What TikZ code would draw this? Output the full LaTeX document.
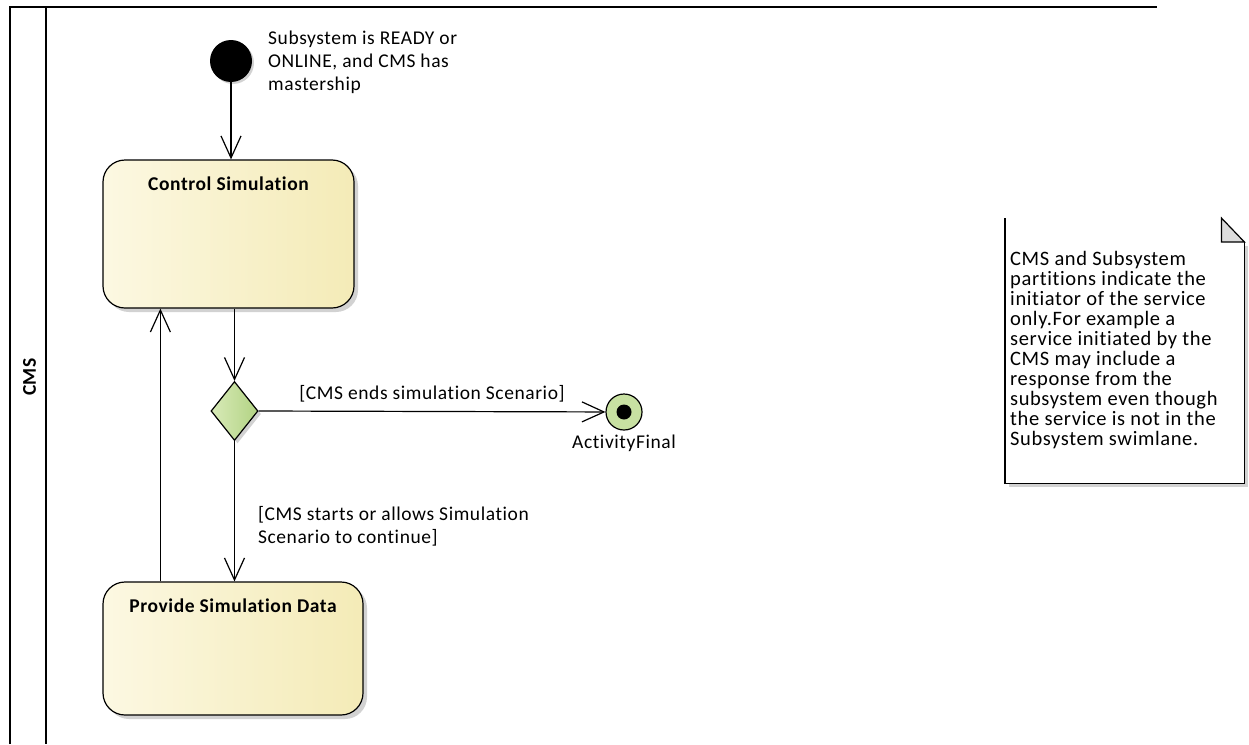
\documentclass[tikz,border=0pt]{standalone}
\usepackage{fontspec}
\setmainfont{Carlito}[Ligatures=NoCommon, LetterSpace=3]
\usetikzlibrary{arrows.meta,shapes.geometric,shadows}

\definecolor{actleft}{HTML}{FCF8E2}
\definecolor{actright}{HTML}{F4EBB7}
\definecolor{decleft}{HTML}{D8EAB8}
\definecolor{decright}{HTML}{B2D383}
\definecolor{finfill}{HTML}{C8E1A2}
\definecolor{shadowgray}{HTML}{D2D2D2}
\definecolor{foldgray}{HTML}{DCDCDC}

\tikzset{
  activity/.style={draw, line width=1.2pt, rounded corners=22pt,
    left color=actleft, right color=actright,
    minimum width=251pt, minimum height=148pt, inner sep=0pt,
    drop shadow={shadow xshift=4pt, shadow yshift=-4pt, fill=shadowgray, opacity=1}},
  title/.style={font=\fontsize{19.5}{23}\selectfont\bfseries, inner sep=0pt},
  txt/.style={font=\fontsize{19.5}{23}\selectfont, align=left, inner sep=0pt},
  flow/.style={line width=1.2pt, -{Straight Barb[length=22pt,width=20pt]}},
}

\begin{document}
\begin{tikzpicture}[x=1pt,y=-1pt]
\useasboundingbox (0,0) rectangle (1249,744);

% swimlane
\draw[line width=1.5pt] (10,744) -- (10,7) -- (1157,7);
\draw[line width=1.5pt] (46,7) -- (46,744);
\node[rotate=90, title] (lane) at (29.5,377) {CMS};

% nodes
\node[circle, fill=black, minimum size=42pt, inner sep=0pt,
  drop shadow={shadow xshift=2pt, shadow yshift=-2pt, fill=shadowgray, opacity=1}] (init) at (231,61) {};
\node[txt, anchor=north west] (initlbl) at (268,31) {Subsystem is READY or\\ONLINE, and CMS has\\mastership};

\node[activity] (cs) at (228.5,234) {};
\node[title, anchor=north] (cstitle) at ([yshift=-17pt]cs.north) {Control Simulation};

\node[diamond, draw, line width=1.2pt, left color=decleft, right color=decright,
  minimum width=47pt, minimum height=59pt, inner sep=0pt,
  drop shadow={shadow xshift=3pt, shadow yshift=-3pt, fill=shadowgray, opacity=1}] (dec) at (234.5,411) {};

\node[circle, draw, line width=1.2pt, fill=finfill, minimum size=36pt, inner sep=0pt] (fin) at (624,412) {};
\node[circle, fill=black, minimum size=15pt, inner sep=0pt] (findot) at (fin) {};
\node[txt, anchor=north] (finlbl) at ([yshift=-4pt]fin.south) {ActivityFinal};

\node[activity, minimum width=260pt, minimum height=133pt] (psd) at (233,648.5) {};
\node[title, anchor=north] (psdtitle) at ([yshift=-17pt]psd.north) {Provide Simulation Data};

% note
\node[minimum width=239pt, minimum height=265pt, anchor=north west, inner sep=0pt] (note) at (1005,218) {};
\fill[shadowgray] ([xshift=4pt,yshift=-4pt]note.south west) rectangle ([xshift=4pt,yshift=-28pt]note.north east);
\fill[white] (note.north west) -- (note.south west) -- (note.south east) -- ([yshift=-24pt]note.north east)
  -- ([xshift=-23pt]note.north east) -- cycle;
\draw[line width=1.2pt] (note.north west) -- (note.south west) -- (note.south east) -- ([yshift=-24pt]note.north east);
\draw[line width=1.2pt, fill=foldgray] ([xshift=-23pt]note.north east) -- ([xshift=-23pt,yshift=-24pt]note.north east)
  -- ([yshift=-24pt]note.north east) -- cycle;
\node[txt, font=\fontsize{20.5}{20}\selectfont, anchor=north west] (notetext) at (1010,251)
  {CMS and Subsystem\\partitions indicate the\\initiator of the service\\only.For example a\\service initiated by the\\CMS may include a\\response from the\\subsystem even though\\the service is not in the\\Subsystem swimlane.};

% flows
\draw[flow] (init) -- (init |- cs.north);
\draw[flow] (dec |- cs.south) -- (dec.north);
\draw[flow] (dec.east) -- node[txt, above=9pt] (endlbl) {[CMS ends simulation Scenario]} (fin);
\draw[flow] (dec.south) -- node[txt, pos=.61, anchor=west, xshift=23pt] (contlbl)
  {[CMS starts or allows Simulation\\Scenario to continue]} (dec |- psd.north);
\draw[flow] ([xshift=58pt]psd.north west) -- ([xshift=58pt]cs.south west);
\end{tikzpicture}
\end{document}
